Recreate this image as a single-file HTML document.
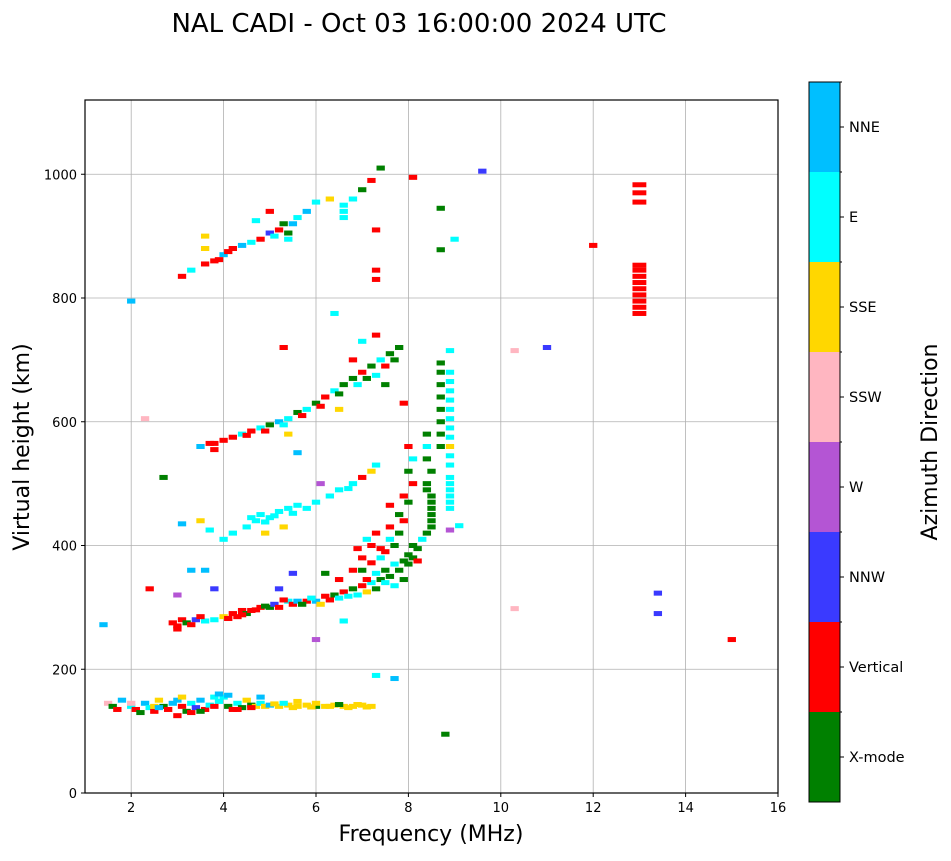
<!DOCTYPE html>
<html><head><meta charset="utf-8"><style>
body{margin:0;background:#fff;width:951px;height:856px;overflow:hidden}
svg{font-family:"DejaVu Sans","Liberation Sans",sans-serif}
</style></head><body>
<svg id="chart" width="951" height="856">
<text x="419" y="32" font-size="26" text-anchor="middle">NAL CADI - Oct 03 16:00:00 2024 UTC</text>
<g id="grid"></g><g id="marks"></g><g id="axes"></g><g id="cbar"></g>
<text x="431" y="841" font-size="22" text-anchor="middle">Frequency (MHz)</text>
<text x="29" y="447" font-size="22" text-anchor="middle" transform="rotate(-90 29 447)">Virtual height (km)</text>
<text x="937" y="442" font-size="22" text-anchor="middle" transform="rotate(-90 937 442)">Azimuth Direction</text>
</svg>
<script>
const xTicks=[2,4,6,8,10,12,14,16];
const yTicks=[0,200,400,600,800,1000];
const classNames=["X-mode","Vertical","NNW","W","SSW","SSE","E","NNE"];
const classColors=["#008000","#ff0000","#3a3aff","#b455d4","#ffb6c1","#ffd700","#00ffff","#00bfff"];
const marks=[
[1.5,145,4],[1.6,140,0],[1.7,135,1],[1.8,150,7],[2.0,140,6],[2.1,135,1],[2.2,130,0],[2.3,145,7],[2.4,138,6],[2.5,132,1],[2.6,150,5],[2.7,140,0],[2.8,135,1],[2.9,145,7],[3.0,150,7],[3.1,140,1],[3.2,132,0],[3.3,145,6],[3.4,138,2],[3.5,150,7],[3.6,135,1],[3.7,142,6],[3.8,155,6],[3.9,148,6],[4.0,155,6],[4.1,140,0],[4.2,135,1],[4.3,145,6],[4.4,138,0],[4.5,150,5],[4.6,142,0],[4.7,140,5],[4.8,145,6],[4.9,140,5],[5.0,142,7],[5.2,140,5],[5.4,142,5],[5.6,140,5],[5.8,142,5],[6.0,140,0],[6.2,140,5],[6.4,142,5],[6.6,140,5],[6.8,140,5],[7.0,142,5],[7.2,140,5],
[2.5,140,5],[3.0,125,1],[3.3,130,1],[3.8,140,1],[4.3,135,1],[5.3,145,6],[6.5,143,0],[7.3,190,6],[7.7,185,7],
[3.1,155,5],[3.9,160,7],[4.1,158,7],[4.6,138,1],[5.1,144,5],[5.5,138,5],[5.9,139,5],[6.3,140,5],[6.7,138,5],[7.1,139,5],[2.0,145,4],[2.6,138,7],[3.5,132,0],[4.8,155,7],[5.6,148,5],[6.0,145,5],[6.9,143,5],
[2.9,275,1],[3.0,270,1],[3.1,280,1],[3.2,275,0],[3.4,280,2],[3.6,278,6],[3.8,280,6],[4.0,285,5],[4.2,290,1],[4.3,285,1],[4.4,295,1],[4.5,290,0],[4.6,295,1],[4.8,300,1],[5.0,300,0],[5.1,305,2],[5.2,300,1],[5.4,310,6],[5.5,305,1],[5.6,310,7],[5.8,310,1],[6.0,310,7],[6.1,305,5],[6.2,318,1],[6.4,320,0],[6.5,315,6],[6.6,325,1],[6.8,330,0],[6.9,320,6],[7.0,335,1],[7.1,325,5],[7.2,340,6],[7.3,330,0],[7.4,345,0],[7.5,340,6],[7.6,350,0],[7.7,335,6],[7.8,360,0],[7.9,345,0],[8.0,370,0],[8.1,380,0],[8.2,395,0],[8.3,410,6],[8.4,420,0],
[3.0,265,1],[3.3,272,1],[3.5,285,1],[4.1,282,1],[4.4,288,1],[4.7,296,1],[4.9,302,0],[5.3,312,1],[5.7,305,0],[5.9,315,6],[6.3,312,1],[6.7,318,6],[7.1,345,1],[7.3,355,6],[7.5,360,0],[7.7,370,6],[7.9,375,0],[8.0,385,0],[8.1,400,0],[8.2,375,1],
[8.5,430,0],[8.5,440,0],[8.5,450,0],[8.5,460,0],[8.5,470,0],[8.5,480,0],[8.4,490,0],[8.4,500,0],[8.5,520,0],[8.4,540,0],[8.4,560,6],[8.4,580,0],[8.7,560,0],[8.7,580,0],[8.7,600,0],[8.7,620,0],[8.7,640,0],[8.7,660,0],[8.7,680,0],[8.7,695,0],
[8.9,460,6],[8.9,470,6],[8.9,480,6],[8.9,490,6],[8.9,500,6],[8.9,510,6],[8.9,530,6],[8.9,545,6],[8.9,560,5],[8.9,575,6],[8.9,590,6],[8.9,605,6],[8.9,620,6],[8.9,635,6],[8.9,650,6],[8.9,665,6],[8.9,680,6],[8.9,715,6],[8.9,425,3],[9.1,432,6],
[6.8,360,1],[7.0,380,1],[7.2,400,1],[7.5,390,1],[7.3,420,1],[7.6,430,1],[7.8,450,0],[7.9,480,1],[8.0,520,0],[8.0,560,1],[7.6,410,6],[7.4,380,6],[6.5,345,1],[6.2,355,0],[5.5,355,2],[5.2,330,2],[3.3,360,7],[3.6,360,7],[3.8,330,2],[3.0,320,3],[2.4,330,1],[6.6,278,6],[6.0,248,3],
[7.0,360,0],[7.2,372,1],[7.4,395,1],[7.7,400,0],[7.8,420,0],[7.9,440,1],[8.0,470,0],[8.1,500,1],[8.1,540,6],[7.6,465,1],[6.9,395,1],[7.1,410,6],
[3.1,435,7],[3.5,440,5],[3.7,425,6],[4.0,410,6],[4.2,420,6],[4.5,430,6],[4.7,440,6],[4.8,450,6],[5.0,445,6],[5.2,455,6],[5.4,460,6],[5.6,465,6],[5.8,460,6],[6.0,470,6],[6.3,480,6],[6.5,490,6],[6.8,500,6],[7.0,510,1],[7.2,520,5],[4.9,420,5],[5.3,430,5],[6.1,500,3],
[4.6,445,6],[4.9,438,6],[5.1,448,6],[5.5,452,6],[6.7,492,6],[7.3,530,6],
[3.5,560,7],[3.7,565,1],[3.8,555,1],[4.0,570,1],[4.2,575,1],[4.4,580,6],[4.6,585,1],[4.8,590,6],[5.0,595,0],[5.2,600,7],[5.4,605,6],[5.6,615,0],[5.8,620,6],[6.0,630,0],[6.2,640,1],[6.4,650,6],[6.6,660,0],[6.8,670,0],[7.0,680,1],[7.2,690,0],[7.4,700,6],[7.6,710,0],[7.8,720,0],[7.3,740,1],[7.0,730,6],[6.8,700,1],[6.5,620,5],[5.4,580,5],[5.6,550,7],[7.9,630,1],[7.5,660,0],[5.3,720,1],[6.4,775,6],
[3.8,565,1],[4.5,578,1],[4.9,585,1],[5.3,595,6],[5.7,610,1],[6.1,625,1],[6.5,645,0],[6.9,660,6],[7.1,670,0],[7.3,675,6],[7.5,690,1],[7.7,700,0],
[3.1,835,1],[3.3,845,6],[3.6,855,1],[3.8,860,1],[4.0,870,7],[4.2,880,1],[4.4,885,7],[4.6,890,6],[4.8,895,1],[5.0,905,2],[5.2,910,1],[5.4,905,0],[5.5,920,7],[5.6,930,6],[5.8,940,7],[6.0,955,6],[6.3,960,5],[6.6,940,6],[6.8,960,6],[7.0,975,0],[7.2,990,1],[7.4,1010,0],[7.3,910,1],[7.3,830,1],[5.0,940,1],[5.3,920,0],[4.7,925,6],[3.6,900,5],[3.6,880,5],[6.6,950,6],[7.3,845,1],
[3.9,862,1],[4.1,875,1],[5.1,900,6],[5.4,895,6],[6.6,930,6],
[8.8,95,0],[8.7,945,0],[8.7,878,0],[9.0,895,6],[10.3,298,4],[10.3,715,4],[11.0,720,2],[12.0,885,1],[13.4,290,2],[13.4,323,2],[15.0,248,1],[2.0,795,7],[2.3,605,4],[2.7,510,0],[1.4,272,7],[8.1,995,1],[9.6,1005,2],
[13,775,1],[13,785,1],[13,795,1],[13,805,1],[13,815,1],[13,825,1],[13,835,1],[13,845,1],[13,853,1],[13,955,1],[13,970,1],[13,983,1]
];
const L=85,R=778,T=100,B=793,fMin=1,fMax=16,hMin=0,hMax=1120;
const xs=f=>L+(f-fMin)/(fMax-fMin)*(R-L);
const ys=h=>B-(h-hMin)/(hMax-hMin)*(B-T);
const NS="http://www.w3.org/2000/svg";
function mk(t,a,p){const e=document.createElementNS(NS,t);for(const k in a)e.setAttribute(k,a[k]);p.appendChild(e);return e;}
const grid=document.getElementById('grid'),axes=document.getElementById('axes'),mg=document.getElementById('marks'),cb=document.getElementById('cbar');
xTicks.forEach(v=>{const x=xs(v);
 const g=mk('line',{x1:x,x2:x,y1:T,y2:B,stroke:'#b0b0b0','stroke-width':0.8},grid);
 
 
 mk('line',{x1:x,x2:x,y1:B,y2:B+4,stroke:'#000'},axes);
 const t=mk('text',{x:x,y:B+19,'font-size':13,'text-anchor':'middle'},axes);t.textContent=v;
 
 });
yTicks.forEach(v=>{const y=ys(v);
 const g=mk('line',{x1:L,x2:R,y1:y,y2:y,stroke:'#b0b0b0','stroke-width':0.8},grid);
 
 
 mk('line',{x1:L-4,x2:L,y1:y,y2:y,stroke:'#000'},axes);
 const t=mk('text',{x:L-8,y:y+5,'font-size':13,'text-anchor':'end'},axes);t.textContent=v;
 
 });
const fr=mk('rect',{x:L,y:T,width:R-L,height:B-T,fill:'none',stroke:'#000','stroke-width':1.2},axes);


marks.forEach(m=>{const w=m[0]===13?0.3:0.18;
 const r=mk('rect',{x:xs(m[0]-w/2),y:ys(m[1])-2.5,width:xs(w)-xs(0),height:5,fill:classColors[m[2]]},mg);
 
 });
const cx=809,cw=31,cT=82,cB=802,seg=(cB-cT)/classNames.length;
classNames.forEach((n,i)=>{const y=cB-(i+1)*seg;
 const r=mk('rect',{x:cx,y:y,width:cw,height:seg,fill:classColors[i]},cb);
 
 
 mk('line',{x1:cx+cw,x2:cx+cw+4,y1:y+seg/2,y2:y+seg/2,stroke:'#000'},cb);
 mk('line',{x1:cx+cw,x2:cx+cw+2,y1:y,y2:y,stroke:'#000'},cb);
 const t=mk('text',{x:cx+cw+9,y:y+seg/2+5,'font-size':14.5},cb);t.textContent=n;
 
 });
mk('rect',{x:cx,y:cT,width:cw,height:cB-cT,fill:'none',stroke:'#000','stroke-width':1},cb);
</script>
</body></html>
